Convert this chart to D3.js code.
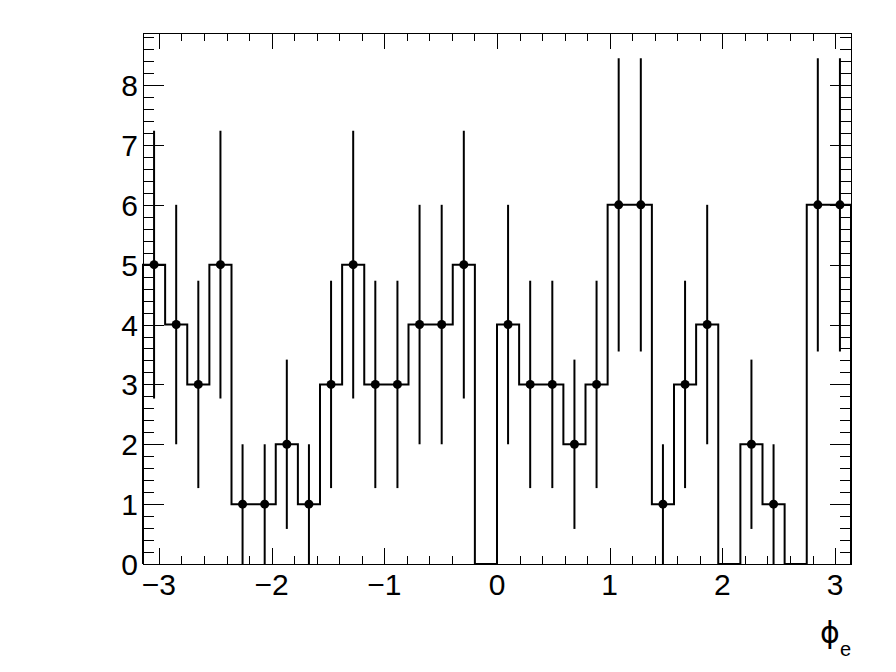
<!DOCTYPE html>
<html lang="en">
  <head>
    <meta charset="UTF-8" />
    <title>phi_e histogram</title>
    <script src="https://d3js.org/d3.v7.min.js"></script>
    <style>
      body {
        margin: 0;
        background: #fff;
        font-family: "Liberation Sans", Arial, sans-serif;
      }
      .lbl {
        font-size: 30px;
        fill: #000;
      }
    </style>
  </head>
  <body>
    <script>
      // bin contents, 32 bins from -pi to pi
      var counts = [
        5, 4, 3, 5, 1, 1, 2, 1, 3, 5, 3, 3, 4, 4, 5, 0,
        4, 3, 3, 2, 3, 6, 6, 1, 3, 4, 0, 2, 1, 0, 6, 6
      ];
      var xMajor = [-3, -2, -1, 0, 1, 2, 3];
      var yMajor = [0, 1, 2, 3, 4, 5, 6, 7, 8];
      var xTitle = "ϕ";
      var xTitleSub = "e";

      var width = 896,
        height = 672;
      var frame = { left: 143, right: 851, top: 33, bottom: 564 };

      var nBins = counts.length;
      var binW = (2 * Math.PI) / nBins;
      var bins = counts.map(function (c, i) {
        var lo = -Math.PI + i * binW;
        return { lo: lo, hi: lo + binW, mid: lo + binW / 2, n: c, err: Math.sqrt(c) };
      });

      var x = d3.scaleLinear().domain([-Math.PI, Math.PI]).range([frame.left, frame.right]);
      var y = d3.scaleLinear().domain([0, 8.87]).range([frame.bottom, frame.top]);

      var svg = d3
        .select("body")
        .append("svg")
        .attr("width", width)
        .attr("height", height);

      svg.append("rect").attr("width", width).attr("height", height).attr("fill", "#fff");

      // minor tick values (every 0.2)
      var xMinor = d3.range(-30, 31, 2).map(function (v) { return v / 10; })
        .filter(function (v) { return xMajor.indexOf(v) < 0; });
      var yMinor = d3.range(0, 89, 2).map(function (v) { return v / 10; })
        .filter(function (v) { return yMajor.indexOf(v) < 0 && v <= 8.87; });

      var ticks = svg.append("g").attr("stroke", "#000").attr("stroke-width", 1);

      function drawTicks(vals, len, side) {
        ticks.selectAll(null)
          .data(vals)
          .enter()
          .append("line")
          .attr("x1", function (d) {
            if (side === "bottom" || side === "top") return Math.round(x(d)) + 0.5;
            return side === "left" ? frame.left : frame.right;
          })
          .attr("x2", function (d) {
            if (side === "bottom" || side === "top") return Math.round(x(d)) + 0.5;
            return side === "left" ? frame.left + len : frame.right - len;
          })
          .attr("y1", function (d) {
            if (side === "left" || side === "right") return Math.round(y(d)) + 0.5;
            return side === "bottom" ? frame.bottom : frame.top;
          })
          .attr("y2", function (d) {
            if (side === "left" || side === "right") return Math.round(y(d)) + 0.5;
            return side === "bottom" ? frame.bottom - len : frame.top + len;
          });
      }
      drawTicks(xMajor, 16, "bottom");
      drawTicks(xMinor, 8, "bottom");
      drawTicks(xMajor, 16, "top");
      drawTicks(xMinor, 8, "top");
      drawTicks(yMajor, 21, "left");
      drawTicks(yMinor, 11, "left");
      drawTicks(yMajor, 21, "right");
      drawTicks(yMinor, 11, "right");

      // histogram outline
      var pts = [[x(-Math.PI), y(0)]];
      bins.forEach(function (b) {
        pts.push([x(b.lo), y(b.n)]);
        pts.push([x(b.hi), y(b.n)]);
      });
      pts.push([x(Math.PI), y(0)]);
      svg.append("path")
        .attr("d", d3.line()(pts))
        .attr("fill", "none")
        .attr("stroke", "#000")
        .attr("stroke-width", 2);

      // error bars
      var withErr = bins.filter(function (b) { return b.n > 0; });
      svg.append("g")
        .selectAll("line")
        .data(withErr)
        .enter()
        .append("line")
        .attr("x1", function (d) { return x(d.mid); })
        .attr("x2", function (d) { return x(d.mid); })
        .attr("y1", function (d) { return y(d.n - d.err); })
        .attr("y2", function (d) { return y(d.n + d.err); })
        .attr("stroke", "#000")
        .attr("stroke-width", 2);

      svg.append("g")
        .selectAll("circle")
        .data(withErr)
        .enter()
        .append("circle")
        .attr("cx", function (d) { return x(d.mid); })
        .attr("cy", function (d) { return y(d.n); })
        .attr("r", 4.5)
        .attr("fill", "#000");

      // frame
      svg.append("rect")
        .attr("x", frame.left + 0.5)
        .attr("y", frame.top + 0.5)
        .attr("width", frame.right - frame.left)
        .attr("height", frame.bottom - frame.top)
        .attr("fill", "none")
        .attr("stroke", "#000")
        .attr("stroke-width", 1);

      // tick labels
      var fmt = d3.format("d");
      svg.append("g")
        .selectAll("text")
        .data(xMajor)
        .enter()
        .append("text")
        .attr("class", "lbl")
        .attr("x", function (d) { return x(d); })
        .attr("y", 595)
        .attr("text-anchor", "middle")
        .text(function (d) { return fmt(d); });

      svg.append("g")
        .selectAll("text")
        .data(yMajor)
        .enter()
        .append("text")
        .attr("class", "lbl")
        .attr("x", 138)
        .attr("y", function (d) { return y(d) + 11; })
        .attr("text-anchor", "end")
        .text(function (d) { return d; });

      // axis title
      var t = svg.append("text")
        .attr("x", 851)
        .attr("y", 643)
        .attr("text-anchor", "end")
        .style("font-size", "30px")
        .style("font-family", "'DejaVu Sans', sans-serif");
      t.append("tspan").text(xTitle);
      t.append("tspan")
        .attr("dy", 13)
        .style("font-size", "20px")
        .style("font-family", "'Liberation Sans', Arial, sans-serif")
        .text(xTitleSub);
    </script>
  </body>
</html>
